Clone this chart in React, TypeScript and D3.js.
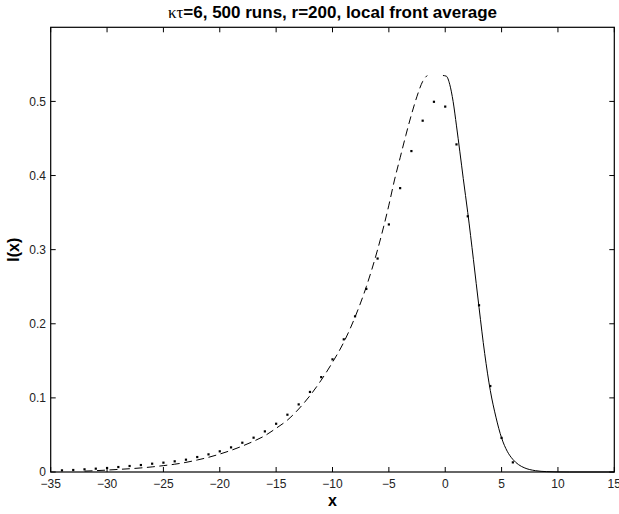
import React from "react";
import * as d3 from "d3";

// ---- data ----
const dotX = [-34, -33, -32, -31, -30, -29, -28, -27, -26, -25, -24, -23, -22, -21, -20, -19, -18, -17, -16, -15, -14, -13, -12, -11, -10, -9, -8, -7, -6, -5, -4, -3, -2, -1, 0, 1, 2, 3, 4, 5, 6];
const dotY = [0.0022, 0.0027, 0.0036, 0.0045, 0.0054, 0.0067, 0.0081, 0.0094, 0.0112, 0.0126, 0.0144, 0.0166, 0.0202, 0.0238, 0.0279, 0.0332, 0.0395, 0.0463, 0.0548, 0.0651, 0.0773, 0.0912, 0.108, 0.128, 0.152, 0.179, 0.21, 0.247, 0.288, 0.334, 0.383, 0.433, 0.474, 0.4995, 0.493, 0.442, 0.345, 0.225, 0.116, 0.046, 0.013];

const dashX = [-32, -31, -30, -29, -28, -27, -26, -25, -24, -23, -22, -21, -20, -19, -18, -17, -16, -15, -14, -13, -12, -11, -10, -9, -8, -7, -6, -5, -4.5, -4, -3.5, -3, -2.5, -2, -1.6];
const dashY = [0.0012, 0.0018, 0.0026, 0.0035, 0.0044, 0.0055, 0.0069, 0.0086, 0.0105, 0.013, 0.0162, 0.0198, 0.0242, 0.0292, 0.035, 0.0415, 0.049, 0.059, 0.07, 0.085, 0.103, 0.124, 0.148, 0.175, 0.209, 0.25, 0.3, 0.36, 0.394, 0.424, 0.454, 0.482, 0.507, 0.527, 0.535];

const solidX = [-0.2, 0.1, 0.4, 0.7, 1.0, 1.3, 1.6, 2.0, 2.5, 3.0, 3.5, 4.0, 4.5, 5.0, 5.5, 6.0, 6.5, 7.0, 8.0, 9.0, 10.0, 11.0, 15.0];
const solidY = [0.535, 0.534, 0.523, 0.5, 0.467, 0.432, 0.396, 0.35, 0.287, 0.222, 0.16, 0.11, 0.074, 0.046, 0.028, 0.017, 0.01, 0.0058, 0.0018, 0.0005, 0.0001, 0, 0];

const xTicks = [-35, -30, -25, -20, -15, -10, -5, 0, 5, 10, 15];
const yTicks = [0, 0.1, 0.2, 0.3, 0.4, 0.5];

const titleGreek = "κτ";
const titleRest = "=6, 500 runs, r=200, local front average";
const xLabel = "x";
const yLabel = "I(x)";

const W = 619;
const H = 514;
const L = 50.7, R = 614.3, T = 27.3, B = 472;

export default function App() {
  const x = d3.scaleLinear().domain([-35, 15]).range([L, R]);
  const y = d3.scaleLinear().domain([0, 0.6]).range([B, T]);
  const line = d3
    .line<[number, number]>()
    .x((d) => x(d[0]))
    .y((d) => y(d[1]))
    .curve(d3.curveMonotoneX);
  const dashData: [number, number][] = dashX.map((v, i) => [v, dashY[i]]);
  const solidData: [number, number][] = solidX.map((v, i) => [v, solidY[i]]);
  const fmtX = d3.format("d");
  const fmtY = (v: number) => (v === 0 ? "0" : d3.format(".1f")(v));
  const font = "'Liberation Sans', Arial, Helvetica, sans-serif";
  const tl = 5;
  return (
    <svg width={W} height={H} style={{ position: "absolute", left: 0, top: 0, background: "#fff" }} fontFamily={font}>
      <rect x={0} y={0} width={W} height={H} fill="#fff" />
      {/* ticks */}
      {xTicks.map((t) => (
        <g key={"xt" + t}>
          <line x1={x(t)} x2={x(t)} y1={B} y2={B - tl} stroke="#000" strokeWidth={1} />
          <line x1={x(t)} x2={x(t)} y1={T} y2={T + tl} stroke="#000" strokeWidth={1} />
          <text x={x(t)} y={487.5} fontSize={12} textAnchor="middle" fill="#222">
            {fmtX(t)}
          </text>
        </g>
      ))}
      {yTicks.map((t) => (
        <g key={"yt" + t}>
          <line x1={L} x2={L + tl} y1={y(t)} y2={y(t)} stroke="#000" strokeWidth={1} />
          <line x1={R} x2={R - tl} y1={y(t)} y2={y(t)} stroke="#000" strokeWidth={1} />
          <text x={46} y={y(t)} dy="0.35em" fontSize={12} textAnchor="end" fill="#222">
            {fmtY(t)}
          </text>
        </g>
      ))}
      {/* curves */}
      <path d={line(dashData) || ""} fill="none" stroke="#000" strokeWidth={1} strokeDasharray="8,4.5" />
      <path d={line(solidData) || ""} fill="none" stroke="#000" strokeWidth={1} />
      {dotX.map((v, i) => (
        <rect key={"d" + i} x={x(v) - 1.1} y={y(dotY[i]) - 1.1} width={2.2} height={2.2} fill="#000" />
      ))}
      {/* box */}
      <rect x={L} y={T} width={R - L} height={B - T} fill="none" stroke="#000" strokeWidth={1.2} />
      {/* title */}
      <text x={(L + R) / 2} y={18} fontSize={17} fontWeight="bold" textAnchor="middle" fill="#000">
        <tspan fontWeight="normal" fontFamily="'Liberation Serif', serif">{titleGreek}</tspan>
        <tspan>{titleRest}</tspan>
      </text>
      <text x={(L + R) / 2} y={506} fontSize={16} fontWeight="bold" textAnchor="middle" fill="#000">
        {xLabel}
      </text>
      <text transform={`translate(19,${(T + B) / 2}) rotate(-90)`} fontSize={16} fontWeight="bold" textAnchor="middle" fill="#000">
        {yLabel}
      </text>
    </svg>
  );
}
